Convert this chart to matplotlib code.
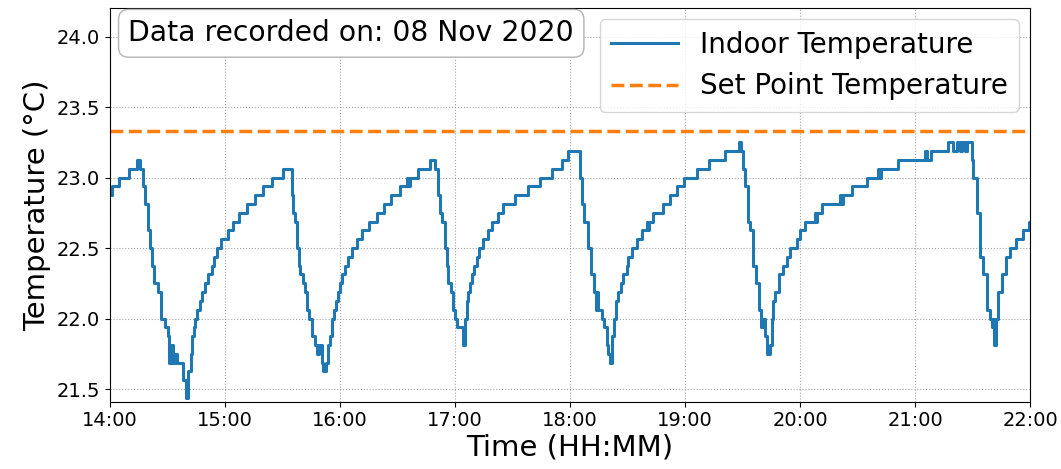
import numpy as np
import pandas as pd
import matplotlib
matplotlib.use("Agg")
import matplotlib.pyplot as plt
import matplotlib.dates as mdates

# indoor temperature readings (sensor step 0.0625 degC), minutes after 14:00
minutes = [
    0.0, 1.2, 4.7, 9.9, 13.9, 15.6, 17.4, 18.3, 19.6, 20.9, 22.0, 23.1, 24.9, 26.6,
    28.7, 30.1, 30.8, 31.7, 32.8, 34.0, 35.1, 38.3, 39.5, 40.9, 42.0, 43.0, 43.8,
    44.5, 45.2, 47.0, 48.2, 49.6, 51.3, 53.0, 54.4, 55.7, 57.8, 61.8, 64.4, 67.3,
    71.3, 75.7, 79.7, 84.4, 90.4, 94.8, 95.6, 96.5, 97.7, 98.5, 99.1, 100.5, 101.7,
    103.0, 104.0, 105.2, 107.0, 108.2, 109.2, 110.4, 111.3, 112.7, 113.9, 114.8,
    115.7, 116.6, 117.9, 119.0, 120.0, 120.8, 122.6, 124.4, 126.1, 128.7, 131.3,
    135.3, 139.1, 143.1, 146.6, 151.3, 154.8, 155.5, 156.3, 160.9, 167.0, 169.6,
    171.0, 172.2, 173.4, 174.8, 175.6, 176.5, 177.9, 179.1, 180.0, 180.9, 184.0,
    185.2, 186.1, 187.0, 187.8, 188.7, 189.9, 191.3, 192.7, 194.8, 197.1, 199.1,
    202.6, 205.2, 211.3, 218.3, 224.4, 230.4, 235.7, 239.1, 245.0, 246.1, 247.5,
    249.2, 251.0, 252.7, 253.4, 254.1, 254.8, 256.5, 257.9, 259.1, 260.0, 260.9,
    261.8, 263.1, 264.0, 264.9, 266.6, 267.8, 269.6, 270.4, 272.2, 274.8, 277.4,
    280.0, 280.5, 281.2, 283.5, 288.7, 292.2, 295.7, 299.5, 306.1, 312.7, 320.9,
    328.4, 329.1, 330.4, 331.3, 332.7, 333.9, 335.3, 337.1, 338.8, 339.7, 340.5,
    341.7, 343.0, 344.5, 345.2, 346.1, 347.0, 349.2, 351.0, 353.1, 354.8, 358.3,
    360.0, 362.6, 367.8, 368.5, 369.0, 371.3, 380.9, 381.5, 382.5, 387.0, 394.8,
    400.9, 401.5, 402.5, 411.3, 425.2, 426.1, 428.2, 437.4, 439.7, 441.7, 443.5,
    444.4, 446.1, 447.0, 449.5, 450.4, 452.2, 453.9, 455.7, 457.7, 459.1, 460.0,
    460.9, 461.4, 462.3, 463.5, 465.2, 467.5, 469.6, 472.7, 476.5, 479.7, 480.0,
]
indoor_temp = [
    22.875, 22.9375, 23.0, 23.0625, 23.125, 23.0625, 22.9375, 22.8125, 22.625, 22.5, 22.375, 22.25, 22.1875, 22.0,
    21.9375, 21.875, 21.6875, 21.8125, 21.6875, 21.75, 21.6875, 21.5625, 21.4375, 21.625, 21.75, 21.875, 21.9375,
    22.0, 22.0625, 22.125, 22.1875, 22.25, 22.3125, 22.375, 22.4375, 22.5, 22.5625, 22.625, 22.6875, 22.75,
    22.8125, 22.875, 22.9375, 23.0, 23.0625, 22.875, 22.75, 22.6875, 22.5, 22.375, 22.3125, 22.25, 22.1875,
    22.0625, 22.0, 21.875, 21.8125, 21.75, 21.8125, 21.6875, 21.625, 21.6875, 21.8125, 21.875,
    22.0, 22.0625, 22.125, 22.1875, 22.25, 22.3125, 22.375, 22.4375, 22.5, 22.5625, 22.625,
    22.6875, 22.75, 22.8125, 22.875, 22.9375, 23.0, 22.9375, 23.0, 23.0625, 23.125, 23.0625,
    22.875, 22.75, 22.6875, 22.5, 22.375, 22.25, 22.1875, 22.0625, 22.0, 21.9375, 21.8125,
    22.0, 22.125, 22.1875, 22.25, 22.3125, 22.375, 22.4375, 22.5, 22.5625, 22.625, 22.6875,
    22.75, 22.8125, 22.875, 22.9375, 23.0, 23.0625, 23.125, 23.1875, 23.0, 22.8125, 22.6875,
    22.5, 22.3125, 22.1875, 22.0625, 22.1875, 22.0625, 22.0, 21.9375, 21.8125, 21.75, 21.6875,
    21.875, 22.0, 22.125, 22.1875, 22.25, 22.3125, 22.375, 22.4375, 22.5, 22.5625, 22.625,
    22.6875, 22.625, 22.6875, 22.75, 22.8125, 22.875, 22.9375, 23.0, 23.0625, 23.125, 23.1875,
    23.25, 23.1875, 23.0625, 22.9375, 22.6875, 22.625, 22.375, 22.25, 22.0625, 21.9375, 22.0,
    21.875, 21.75, 21.8125, 22.0, 22.125, 22.1875, 22.3125, 22.375, 22.4375, 22.5, 22.5625,
    22.625, 22.6875, 22.75, 22.6875, 22.75, 22.8125, 22.875, 22.8125, 22.875, 22.9375, 23.0,
    23.0625, 23.0, 23.0625, 23.125, 23.1875, 23.125, 23.1875, 23.25, 23.1875, 23.25, 23.1875,
    23.25, 23.1875, 23.25, 23.125, 23.0, 22.75, 22.4375, 22.3125, 22.0625, 22.0, 21.9375,
    22.0, 21.8125, 22.0, 22.1875, 22.3125, 22.4375, 22.5, 22.5625, 22.625, 22.6875, 22.6875,
]
set_point = 23.33
date_label = "Data recorded on: 08 Nov 2020"

start = pd.Timestamp("2020-11-08 14:00")
times = start + pd.to_timedelta(minutes, unit="m")

fig = plt.figure(figsize=(10.61, 4.69), dpi=100)
ax = fig.add_axes([0.1037, 0.1435, 0.8671, 0.8388])

ax.plot(times, indoor_temp, color="tab:blue", lw=2.2, drawstyle="steps-post",
        label="Indoor Temperature")
ax.axhline(set_point, color="tab:orange", lw=2.5, ls="--", label="Set Point Temperature")

ax.set_xlim(start, start + pd.Timedelta(hours=8))
ax.set_ylim(21.41, 24.2)
ax.set_yticks(np.arange(21.5, 24.01, 0.5))
ax.xaxis.set_major_locator(mdates.HourLocator())
ax.xaxis.set_major_formatter(mdates.DateFormatter("%H:%M"))
ax.tick_params(labelsize=14)
ax.grid(True, ls=":", color="gray", alpha=0.7)

ax.set_xlabel("Time (HH:MM)", fontsize=21, labelpad=2)
ax.set_ylabel("Temperature (\u00b0C)", fontsize=21, labelpad=4)

ax.legend(loc="upper right", fontsize=20, borderaxespad=0.4, handlelength=2.4)
ax.text(0.02, 0.972, date_label, transform=ax.transAxes, fontsize=20.3,
        va="top", ha="left",
        bbox=dict(boxstyle="round,pad=0.35", facecolor="white", edgecolor="0.7"))

fig.savefig("out.png", dpi=100)
